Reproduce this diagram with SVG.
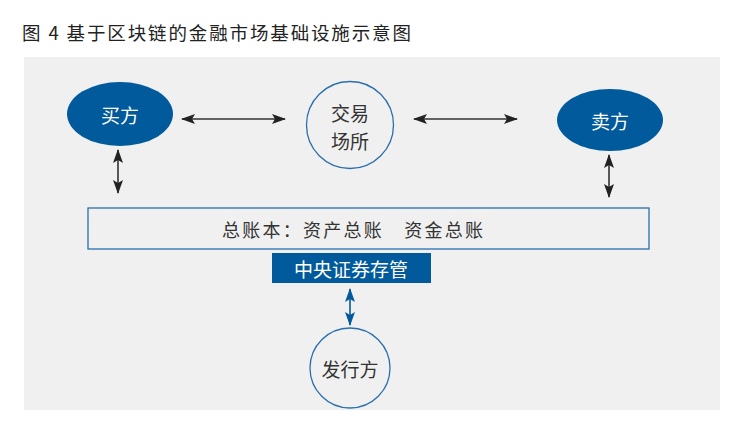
<svg xmlns="http://www.w3.org/2000/svg" width="744" height="435" viewBox="0 0 744 435">
<style>
text{font-family:"Noto Sans CJK SC","Noto Sans",sans-serif;}
.t{fill:#333;font-size:19px;text-anchor:middle;dominant-baseline:central;}
.w{fill:#fff;font-size:19px;text-anchor:middle;dominant-baseline:central;}
.c{fill:#f0f0f0;stroke:#2a6fad;stroke-width:1.3;}
.e{fill:#005a9c;}
.k{stroke:#333;stroke-width:1.6;fill:none;marker-start:url(#ak);marker-end:url(#ak);}
.b{stroke:#005a9c;stroke-width:1.6;fill:none;marker-start:url(#ab);marker-end:url(#ab);}
</style>
<defs>
<marker id="ak" viewBox="0 0 14 10" refX="13" refY="5" markerWidth="14" markerHeight="10" markerUnits="userSpaceOnUse" orient="auto-start-reverse"><path d="M0,0 L14,5 L0,10 L3,5 Z" fill="#222"/></marker>
<marker id="ab" viewBox="0 0 14 10" refX="13" refY="5" markerWidth="14" markerHeight="10" markerUnits="userSpaceOnUse" orient="auto-start-reverse"><path d="M0,0 L14,5 L0,10 L3,5 Z" fill="#005a9c"/></marker>
</defs>
<rect width="744" height="435" fill="#fff"/>
<text x="22" y="40" textLength="389" lengthAdjust="spacing" style="font-size:18.5px;fill:#222">图 4  基于区块链的金融市场基础设施示意图</text>
<rect x="24" y="57" width="696" height="353" fill="#f0f0f0"/>
<g id="connectors">
<line class="k" x1="182" y1="119" x2="285" y2="119"/>
<line class="k" x1="414" y1="119" x2="517" y2="119"/>
<line class="k" x1="118" y1="150" x2="118" y2="193"/>
<line class="k" x1="609" y1="155" x2="609" y2="197"/>
<line class="b" x1="350" y1="289" x2="350" y2="325"/>
</g>
<g id="buyer"><ellipse class="e" cx="120" cy="114" rx="53" ry="32"/><text class="w" x="120" y="114">买方</text></g>
<g id="exchange"><circle class="c" cx="350" cy="125" r="43.5"/><text class="t" x="350" y="112">交易</text><text class="t" x="350" y="140">场所</text></g>
<g id="seller"><ellipse class="e" cx="610" cy="120" rx="53" ry="31"/><text class="w" x="610" y="120">卖方</text></g>
<g id="ledger"><rect class="c" x="88" y="208" width="561" height="41"/><text class="t" x="222" y="229" textLength="261" lengthAdjust="spacing" style="text-anchor:start;font-size:18px">总账本：资产总账　资金总账</text></g>
<g id="csd"><rect class="e" x="272" y="253" width="159" height="30"/><text class="w" x="351" y="268">中央证券存管</text></g>
<g id="issuer"><circle class="c" cx="350" cy="368" r="40"/><text class="t" x="350" y="368">发行方</text></g>
</svg>
